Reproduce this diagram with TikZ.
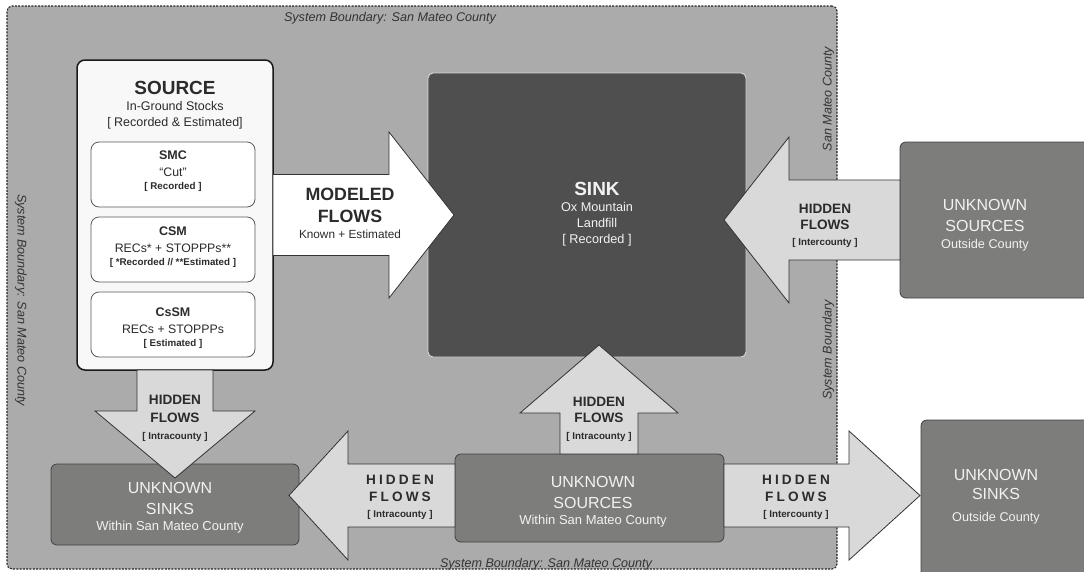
\documentclass[tikz,border=0pt]{standalone}
\usepackage{fontspec}
\setmainfont{Liberation Sans}
\newfontfamily\spacedfont[LetterSpace=23]{Liberation Sans}
\usetikzlibrary{calc}
\definecolor{bndgray}{HTML}{ABABAB}
\definecolor{sinkgray}{HTML}{4F4F4F}
\definecolor{unkgray}{HTML}{7D7E7C}
\definecolor{flowgray}{HTML}{D9D9D9}
\definecolor{srcwhite}{HTML}{F8F8F8}
\definecolor{inkgray}{HTML}{2B2B2B}
\definecolor{paletext}{HTML}{F2F2F2}
\newcommand{\ttl}[2]{{\fontsize{#1}{#1}\selectfont\bfseries #2}}
\newcommand{\brk}[1]{{\fontsize{9.8}{10}\selectfont\bfseries #1}}
\newcommand{\flowarrow}[7][]{%
  \begin{scope}[shift={(#2)}, rotate=#3]
    \draw[flowbody, #1] (0,#5) -- ({#4-#7},#5) -- ({#4-#7},#6) -- (#4,0)
      -- ({#4-#7},-#6) -- ({#4-#7},-#5) -- (0,-#5) -- cycle;
  \end{scope}}
\tikzset{
  boxbase/.style={anchor=north west, inner sep=0pt, outer sep=0pt},
  bndbox/.style={boxbase, draw=black!85, fill=bndgray, line width=1.1pt, dash pattern=on 2pt off 1.3pt, rounded corners=5pt},
  srcbox/.style={boxbase, draw=black!90, fill=srcwhite, line width=1.5pt, rounded corners=8pt},
  subbox/.style={boxbase, draw=black!65, fill=white, line width=0.8pt, rounded corners=8pt, minimum width=164, minimum height=65},
  sinkbox/.style={boxbase, draw=black!15, fill=sinkgray, line width=0.9pt, rounded corners=5pt},
  unkbox/.style={boxbase, draw=black!75, fill=unkgray, line width=0.8pt, rounded corners=6pt},
  flowbody/.style={draw=black!80, fill=flowgray, line width=0.8pt, line join=miter},
  txt/.style={anchor=north, inner sep=0pt, align=center, text=inkgray},
  unktxt/.style={txt, text=paletext},
  bndtxt/.style={anchor=base, inner sep=0pt, text=black!80, font=\fontsize{12.6}{14}\selectfont\itshape},
}
\begin{document}
\begin{tikzpicture}[x=1pt, y=-1pt]
  \useasboundingbox (0,0) rectangle (1084,571);
  % System boundary
  \node[bndbox, minimum width=830, minimum height=563] (bnd) at (7,6) {};
  \node[bndtxt] (bndTop) at (390,21.5) {System Boundary: San Mateo County};
  \node[bndtxt] (bndBot) at (546,567.2) {System Boundary: San Mateo County};
  \node[bndtxt, rotate=-90] (bndLeft) at (17.5,300) {System Boundary: San Mateo County};
  \node[bndtxt, rotate=90] (bndRightA) at (831.5,99) {San Mateo County};
  \node[bndtxt, rotate=90] (bndRightB) at (831.5,350) {System Boundary};

  % Boxes
  \node[srcbox, minimum width=196, minimum height=310] (src) at (77,60) {};
  \node[subbox] (smc) at (91,142) {};
  \node[subbox] (csm) at (91,217) {};
  \node[subbox] (cssm) at (91,292) {};
  \node[sinkbox, minimum width=318, minimum height=284] (sink) at (428,73) {};
  \node[unkbox, minimum width=200, minimum height=156] (uso) at (900,142) {};
  \node[unkbox, minimum width=180, minimum height=170] (usk) at (921,420) {};
  \node[unkbox, minimum width=269, minimum height=88] (usw) at (455,454) {};
  \node[unkbox, minimum width=248, minimum height=81] (uskw) at (51,464) {};
  \coordinate (upTail) at (599,454);

  % Flows
  \flowarrow[fill=white]{src.east}{0}{181}{40.5}{83}{65}
  \flowarrow{uso.west}{180}{176}{40}{83}{65}
  \flowarrow{src.south}{-90}{108}{38}{80}{67}
  \flowarrow{upTail}{90}{109}{39}{79}{68}
  \flowarrow{$(usw.west)+(0,-2.5)$}{180}{166}{31.5}{64.5}{59}
  \flowarrow{$(usw.east)+(0,-2.5)$}{0}{196}{31.5}{64.5}{71}

  % Texts
  \node[txt, font=\fontsize{12.5}{16.2}\selectfont] (srcTxt) at (175,80.7)
    {\ttl{19}{SOURCE}\\In-Ground Stocks\\{}[ Recorded \& Estimated]};
  \node[txt, font=\fontsize{12.3}{16.3}\selectfont] (smcTxt) at (173,151)
    {\ttl{12.5}{SMC}\\“Cut”\\[-3.1pt]\brk{[ Recorded ]}};
  \node[txt, font=\fontsize{12.3}{16.3}\selectfont] (csmTxt) at (173,227)
    {\ttl{12.5}{CSM}\\RECs* + STOPPPs**\\[-3.1pt]\brk{[ *Recorded // **Estimated ]}};
  \node[txt, font=\fontsize{12.3}{16.3}\selectfont] (cssmTxt) at (173,308)
    {\ttl{12.5}{CsSM}\\RECs + STOPPPs\\[-3.1pt]\brk{[ Estimated ]}};
  \node[txt, font=\fontsize{11.8}{16.1}\selectfont] (mfTxt) at (350,188.2)
    {\ttl{17.8}{MODELED}\\[5.6pt]\ttl{17.8}{FLOWS}\\Known + Estimated};
  \node[txt, text=paletext, font=\fontsize{12.7}{16.2}\selectfont] (sinkTxt) at (597,181.7)
    {\ttl{19}{SINK}\\Ox Mountain\\Landfill\\{}[ Recorded ]};
  \node[txt, font=\fontsize{9.6}{16.3}\selectfont] (hfInter) at (825,203.5)
    {\ttl{13.6}{HIDDEN}\\\ttl{13.6}{FLOWS}\\\brk{[ Intercounty ]}};
  \node[txt, font=\fontsize{9.6}{17.6}\selectfont] (hfDown) at (175,395.2)
    {\ttl{13.6}{HIDDEN}\\\ttl{13.6}{FLOWS}\\\brk{[ Intracounty ]}};
  \node[txt, font=\fontsize{9.6}{16.5}\selectfont] (hfUp) at (599,396.9)
    {\ttl{13.6}{HIDDEN}\\\ttl{13.6}{FLOWS}\\\brk{[ Intracounty ]}};
  \node[txt, font=\fontsize{9.6}{16.3}\selectfont] (hfLeft) at (400,475.2)
    {{\spacedfont\ttl{13.6}{HIDDEN}}\\{\spacedfont\ttl{13.6}{FLOWS}}\\\brk{[ Intracounty ]}};
  \node[txt, font=\fontsize{9.6}{16.3}\selectfont] (hfRight) at (796,475.2)
    {{\spacedfont\ttl{13.6}{HIDDEN}}\\{\spacedfont\ttl{13.6}{FLOWS}}\\\brk{[ Intercounty ]}};
  \node[unktxt, font=\fontsize{12.7}{16.4}\selectfont] (usoTxt) at (985,199.6)
    {{\fontsize{16}{16}\selectfont UNKNOWN}\\[4.6pt]{\fontsize{16}{16}\selectfont SOURCES}\\Outside County};
  \node[unktxt, font=\fontsize{12.7}{19}\selectfont] (uskTxt) at (996,468.9)
    {{\fontsize{16}{16}\selectfont UNKNOWN}\\{\fontsize{16}{16}\selectfont SINKS}\\[3.5pt]Outside County};
  \node[unktxt, font=\fontsize{13}{16.4}\selectfont] (uswTxt) at (593,476.6)
    {{\fontsize{16}{16}\selectfont UNKNOWN}\\[4.2pt]{\fontsize{16}{16}\selectfont SOURCES}\\Within San Mateo County};
  \node[unktxt, font=\fontsize{13}{16.2}\selectfont] (uskwTxt) at (170,482.2)
    {{\fontsize{16}{16}\selectfont UNKNOWN}\\[4.5pt]{\fontsize{16}{16}\selectfont SINKS}\\Within San Mateo County};
\end{tikzpicture}
\end{document}
